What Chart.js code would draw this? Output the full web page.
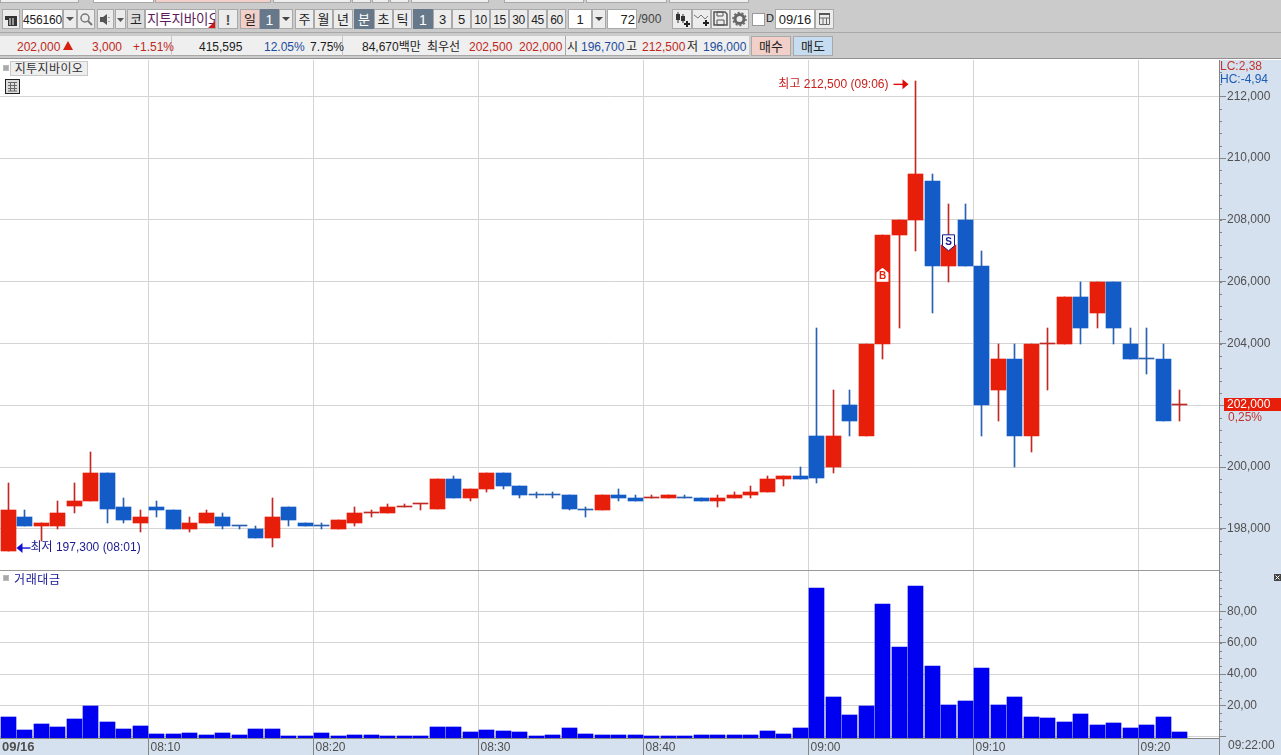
<!DOCTYPE html>
<html lang="ko">
<head>
<meta charset="utf-8">
<title>지투지바이오</title>
<script src="https://cdn.jsdelivr.net/npm/chart.js@4"></script>
<style>
  html, body { margin: 0; padding: 0; background: #cbcbcb; overflow: hidden; }
  body { width: 1281px; height: 755px; position: relative;
         font: 12px "Liberation Sans", "Noto Sans CJK KR", sans-serif; color: #222; }
  canvas { position: absolute; left: 0; display: block; }
  .abs { position: absolute; }
  .tab { position: absolute; top: 0; height: 2px; background: #eeeeee; border: 1px solid #a8a8a8; border-top: 0; box-sizing: content-box; }
  .b { position: absolute; top: 9px; height: 20px; line-height: 20px; box-sizing: border-box; text-align: center;
       background: #ececec; border: 1px solid #a9a9a9; font-size: 13px; white-space: nowrap; overflow: hidden; }
  .in { background: #fff; }
  .on { background: #66788a; color: #fff; border-color: #66788a; }
  .t { position: absolute; top: 37px; line-height: 20px; white-space: nowrap; }
  .r { color: #c0281c; } .u { color: #1d4c9c; } .k { color: #1c1c1c; }
  .ic { position: absolute; top: 0; left: 0; }
</style>
</head>
<body>
<!-- window strip -->
<div class="tab" style="left:0;width:77px"></div><div class="tab" style="left:93px;width:59px;background:#fff"></div>
<div class="tab" style="left:155px;width:114px;background:#f2cfc8"></div><div class="tab" style="left:273px;width:76px"></div>
<div class="tab" style="left:352px;width:17px"></div><div class="tab" style="left:372px;width:15px"></div>
<div class="tab" style="left:390px;width:17px"></div><div class="tab" style="left:411px;width:76px"></div>
<div class="tab" style="left:504px;width:78px"></div><div class="tab" style="left:586px;width:79px"></div>
<div class="tab" style="left:669px;width:78px"></div>

<!-- toolbar -->
<div class="b" style="left:2px;width:18px"><svg class="ic" width="16" height="18"><path d="M2 6h12v10H5v-6H2z" fill="#333"/><path d="M7 8v7M10 8v7" stroke="#fff"/></svg></div>
<div class="b in" style="left:22px;width:41px;font-size:12px;letter-spacing:-.2px">456160</div>
<div class="b" style="left:63px;width:14px"><svg class="ic" width="12" height="18"><path d="M2 7h8l-4 4z" fill="#555"/></svg></div>
<div class="b" style="left:77px;width:18px"><svg class="ic" width="16" height="18"><circle cx="7" cy="8" r="4" fill="none" stroke="#777" stroke-width="1.5"/><path d="M10 11l4 4" stroke="#777" stroke-width="2"/></svg></div>
<div class="b" style="left:97px;width:17px"><svg class="ic" width="15" height="18"><path d="M2 7h3l4-3v11l-4-3H2z" fill="#555"/><path d="M11 7v1M11 11v1" stroke="#555"/></svg></div>
<div class="b" style="left:115px;width:11px"><svg class="ic" width="9" height="18"><path d="M1 8h7l-3.500 4z" fill="#555"/></svg></div>
<div class="b" style="left:127px;width:18px;background:#dcdcdc">코</div>
<div class="b in" style="left:145px;width:71px;color:#5c1a5c;font-size:13.500px;letter-spacing:-.2px;text-align:left;padding-left:1px">지투지바이오<svg class="ic" style="left:62px" width="8" height="18"><path d="M7 11v7H0z" fill="#d01818"/></svg></div>
<div class="b" style="left:218px;width:20px;font-weight:bold;color:#555;font-size:15px">!</div>
<div class="b" style="left:240px;width:20px;background:#f2cfc8">일</div>
<div class="b on" style="left:260px;width:19px;font-size:14px">1</div>
<div class="b" style="left:279px;width:14px"><svg class="ic" width="12" height="18"><path d="M2 7h8l-4 4z" fill="#444"/></svg></div>
<div class="b" style="left:295px;width:19px">주</div><div class="b" style="left:314px;width:19px">월</div><div class="b" style="left:333px;width:20px">년</div>
<div class="b on" style="left:354px;width:20px">분</div><div class="b" style="left:374px;width:19px">초</div><div class="b" style="left:393px;width:19px">틱</div>
<div class="b on" style="left:413px;width:20px;font-size:14px">1</div>
<div class="b" style="left:433px;width:19px">3</div><div class="b" style="left:452px;width:19px">5</div><div class="b" style="left:471px;width:19px;font-size:12px;letter-spacing:-.3px">10</div>
<div class="b" style="left:490px;width:19px;font-size:12px;letter-spacing:-.3px">15</div><div class="b" style="left:509px;width:19px;font-size:12px;letter-spacing:-.3px">30</div><div class="b" style="left:528px;width:19px;font-size:12px;letter-spacing:-.3px">45</div><div class="b" style="left:547px;width:19px;font-size:12px;letter-spacing:-.3px">60</div>
<div class="b in" style="left:568px;width:24px">1</div>
<div class="b" style="left:592px;width:14px"><svg class="ic" width="12" height="18"><path d="M2 7h8l-4 4z" fill="#444"/></svg></div>
<div class="b in" style="left:607px;width:30px;text-align:right;padding-right:1px;font-size:13px">72</div>
<div class="abs" style="left:638px;top:9px;line-height:20px;color:#444">/900</div>
<div class="b" style="left:672px;width:20px"><svg class="ic" width="18" height="18"><path d="M5 2v11M10 4v9" stroke="#333"/><path d="M3 4h4v6H3zM8 6h4v5H8z" fill="#333"/><path d="M11 14h6M14 11v6" stroke="#222" stroke-width="2"/></svg></div>
<div class="b" style="left:692px;width:19px"><svg class="ic" width="17" height="18"><path d="M1 5l4 3 3-3 4 4 3-3" fill="none" stroke="#777"/><path d="M10 13h6M13 10v6" stroke="#222" stroke-width="2"/></svg></div>
<div class="b" style="left:711px;width:19px"><svg class="ic" width="17" height="18"><path d="M2 2h11l2 2v11H2z" fill="none" stroke="#555" stroke-width="1.500"/><path d="M5 2h6v4H5zM5 10h7v5H5z" fill="none" stroke="#555"/></svg></div>
<div class="b" style="left:730px;width:19px"><svg class="ic" width="17" height="18"><circle cx="8.500" cy="9" r="4.500" fill="none" stroke="#666" stroke-width="3"/><circle cx="8.500" cy="9" r="6.500" fill="none" stroke="#666" stroke-width="1.500" stroke-dasharray="2 2"/></svg></div>
<div class="abs" style="left:752px;top:13px;width:13px;height:13px;background:#fff;border:1px solid #999;box-sizing:border-box"></div>
<div class="abs" style="left:766px;top:8px;line-height:20px;font-size:11px">D</div>
<div class="b in" style="left:775px;width:40px;font-size:13px">09/16</div>
<div class="b" style="left:815px;width:19px"><svg class="ic" width="17" height="18"><path d="M3.500 4.500h10v10h-10zM3.500 8h10M7 8v6M10.500 8v6" fill="none" stroke="#666"/><path d="M3 3h11v2H3z" fill="#555"/></svg></div>
<div class="abs" style="left:0;top:32px;width:1281px;height:1px;background:#a8a8a8"></div>

<!-- quote row -->
<div class="abs" style="left:0;top:36px;width:749px;height:20px;background:#efefef;border-bottom:1px solid #a8a8a8;box-sizing:border-box"></div>
<div class="abs" style="left:171px;top:36px;width:1px;height:20px;background:#c4c4c4"></div>
<div class="abs" style="left:342px;top:36px;width:1px;height:20px;background:#c4c4c4"></div>
<div class="abs" style="left:565px;top:36px;width:1px;height:20px;background:#a8a8a8"></div>
<div class="t r" style="left:17px">202,000</div>
<svg class="abs" style="left:63px;top:41px" width="10" height="10"><path d="M5 0l5 9H0z" fill="#d8200e"/></svg>
<div class="t r" style="left:92px">3,000</div><div class="t r" style="left:133px">+1.51%</div>
<div class="t k" style="left:199px">415,595</div><div class="t u" style="left:264px">12.05%</div><div class="t k" style="left:310px">7.75%</div>
<div class="t k" style="left:362px">84,670백만</div><div class="t k" style="left:427px">최우선</div>
<div class="t r" style="left:469px">202,500</div><div class="t r" style="left:519px">202,000</div>
<div class="t k" style="left:567px">시</div><div class="t u" style="left:581px">196,700</div>
<div class="t k" style="left:626px">고</div><div class="t r" style="left:642px">212,500</div>
<div class="t k" style="left:687px">저</div><div class="t u" style="left:703px">196,000</div>
<div class="abs" style="left:751px;top:36px;width:40px;height:20px;line-height:20px;text-align:center;background:#f2cfc8;border:1px solid #a9a9a9;box-sizing:border-box;font-size:13px">매수</div>
<div class="abs" style="left:793px;top:36px;width:40px;height:20px;line-height:20px;text-align:center;background:#c6dcf1;border:1px solid #a9a9a9;box-sizing:border-box;font-size:13px">매도</div>
<div class="abs" style="left:0;top:58px;width:1281px;height:1px;background:#909090"></div>
<div class="abs" style="left:0;top:59px;width:1281px;height:1px;background:#fff"></div>

<canvas id="priceChart" width="1281" height="510" style="top:60px"></canvas>
<canvas id="valueChart" width="1281" height="185" style="top:570px"></canvas>

<!-- pane furniture -->
<div class="abs" style="left:0;top:570px;width:1219px;height:1px;background:#9a9a9a"></div>
<div class="abs" style="left:3px;top:65px;width:6px;height:6px;background:#a8a8a8;border:1px solid #bbb;box-sizing:border-box"></div>
<div class="abs" style="left:10px;top:61px;width:78px;height:15px;line-height:14px;text-align:center;background:#eeeeee;border:1px solid #c8c8c8;box-sizing:border-box;color:#333;letter-spacing:.4px">지투지바이오</div>
<svg class="abs" style="left:5px;top:79px" width="15" height="15"><rect x=".5" y=".5" width="14" height="14" fill="#ddd" stroke="#222"/><path d="M3 3.500h9M3 6.500h9M3 9.500h9M3 12h9M5.500 3v9M9.500 3v9" stroke="#666"/></svg>
<div class="abs" style="left:3px;top:575px;width:6px;height:6px;background:#a8a8a8;border:1px solid #bbb;box-sizing:border-box"></div>
<div class="abs" style="left:14px;top:573px;line-height:15px;color:#141496;letter-spacing:.6px">거래대금</div>
<svg class="abs" style="left:1274px;top:574px" width="7" height="7"><rect width="7" height="7" fill="#444"/><path d="M1.500 1.500l4 4M5.500 1.500l-4 4" stroke="#fff"/></svg>

<script>
// Minute candles, one entry per trading minute shown on the chart.
const times = [
  '08:01','08:02','08:03','08:04','08:05','08:06','08:07','08:08','08:09','08:10',
  '08:11','08:12','08:13','08:14','08:15','08:16','08:17','08:18','08:19','08:20',
  '08:21','08:22','08:23','08:24','08:25','08:26','08:27','08:28','08:29','08:30',
  '08:31','08:32','08:33','08:34','08:35','08:36','08:37','08:38','08:39','08:40',
  '08:41','08:42','08:43','08:44','08:45','08:46','08:47','08:48','08:49','09:00',
  '09:01','09:02','09:03','09:04','09:05','09:06','09:07','09:08','09:09','09:10',
  '09:11','09:12','09:13','09:14','09:15','09:16','09:17','09:18','09:19','09:20',
  '09:21','09:22'];
const opens = [
  197300,198400,198100,198100,198750,198900,199800,198700,198200,198700,
  198600,198000,198200,198400,198100,198000,197700,198700,198200,198100,
  198000,198200,198500,198500,198700,198800,198650,199600,199000,199300,
  199800,199400,199100,199100,199100,198600,198600,199100,199000,199000,
  199000,199000,199000,198900,199000,199100,199200,199600,199700,201000,
  200000,202000,201000,204000,207500,208000,209250,206500,208000,206500,
  202500,203500,201000,204000,204000,205500,205000,206000,204000,203500,
  203500,202000];
const highs = [
  199500,198600,198200,198900,199500,200500,199800,199000,198600,198900,
  198600,198400,198600,198500,198100,198100,199000,198700,198200,198200,
  198300,198700,198600,198800,198800,198800,199600,199700,199300,199800,
  199800,199400,199200,199200,199100,198700,199100,199300,199100,199100,
  199100,199100,199000,199100,199200,199400,199700,199700,200000,204500,
  202500,202500,204000,207500,208000,212500,209500,208500,208500,207000,
  204000,204000,204000,204500,205500,206000,206000,206000,204500,204500,
  204000,202500];
const lows = [
  197300,198100,197600,198000,198500,198900,198200,198200,197900,198400,
  198000,197900,198200,198000,198000,197700,197400,198100,198100,198000,
  198000,198100,198400,198500,198700,198600,198650,199000,198900,199200,
  199300,199000,199000,199000,198600,198400,198600,198900,198900,199000,
  199000,199000,198900,198700,199000,199000,199200,199400,199600,199500,
  199800,201000,201000,203500,204500,207000,205000,206000,206500,201000,
  201500,200000,200500,202500,204000,204000,204500,204000,203500,203000,
  201500,201500];
const closes = [
  198600,198100,198200,198500,198900,199800,198650,198300,198400,198600,
  198000,198200,198500,198100,198100,197700,198400,198300,198100,198100,
  198300,198500,198500,198700,198700,198800,199600,199000,199300,199800,
  199400,199100,199100,199100,198650,198600,199100,199000,198900,199000,
  199100,199000,198900,199000,199100,199200,199600,199700,199600,199650,
  201000,201500,204000,207500,208000,209500,206500,207200,206500,202000,
  203500,201000,204000,204000,205500,204500,206000,204500,203500,203500,
  201500,202000];
// Unchanged candles that close on a downtick are coloured blue.
const downtickDoji = [14,19,32,33,35,41,69];
const tradeValues = [
  12.6,4.3,8.1,6.2,11.3,19.6,9.4,4.9,6.8,1.7,
  1.7,2.3,1.1,2.3,1.1,4.9,4.9,0.4,0.4,2.3,
  0.4,1.1,1.1,0.4,0.4,0.4,6.2,6.2,3.0,4.3,
  3.6,3.0,0.4,1.1,5.5,1.7,1.1,1.1,1.1,0.4,
  0.4,0.4,1.1,1.1,1.1,1.1,3.6,1.7,5.5,94.9,
  25.3,13.8,19.6,84.7,57.2,96.2,45.1,20.2,22.8,43.8,
  20.2,25.3,12.6,11.9,9.4,14.5,7.4,8.7,5.5,7.4,
  12.6,3.0];
const priceTicks = [198000,200000,202000,204000,206000,208000,210000,212000];
const priceMinorStep = 400;
const valueTicks = [0,20,40,60,80];
const valueMinorStep = 5;
const timeTickIndexes = [0,9,19,29,39,49,59,69];
const dateLabel = '09/16';
const axisEndLabel = '09:22:00';
const lastPrice = 202000;
const lastChange = '0,25%';
const highIndex = 55, lowIndex = 0, buyIndex = 53, sellIndex = 57;

const RED = '#e61e0a', BLUE = '#135cc8', RED_WICK = '#c02a22', BLUE_WICK = '#2a60b0';
const GRID = '#d4d4d4', AXIS = '#858585', BAND = '#d6e1ef', LABEL = '#505050';
const FONT = '"Liberation Sans", "Noto Sans CJK KR", sans-serif';
const AXIS_WIDTH = 62;
const xMin = -0.5, xMax = 73.38;
const isUp = i => closes[i] >= opens[i] && !downtickDoji.includes(i);
const isDoji = i => closes[i] === opens[i];

Chart.defaults.font.family = FONT;
Chart.defaults.font.size = 12;
Chart.defaults.animation = false;

// Keeps candle edges on whole device pixels so the thin wicks stay crisp.
const snapBars = {
  id: 'snapBars',
  afterDatasetsUpdate(chart) {
    chart.data.datasets.forEach((ds, d) => {
      chart.getDatasetMeta(d).data.forEach(el => {
        el.x = Math.floor(el.x) + 0.5;
        const top = Math.round(Math.min(el.y, el.base));
        let bottom = Math.round(Math.max(el.y, el.base));
        if (bottom <= top) bottom = top + 1;
        el.y = top; el.base = bottom;
      });
    });
  }
};

// Paints the pane and axis column, and puts the short minor ticks along the axis.
const axisBand = {
  id: 'axisBand',
  beforeDraw(chart, args, opts) {
    const { ctx, chartArea: a, width, height } = chart;
    ctx.save();
    ctx.fillStyle = '#ffffff';
    ctx.fillRect(0, 0, a.right, a.bottom);
    ctx.fillStyle = BAND;
    ctx.fillRect(a.right, 0, width - a.right, height);
    if (opts.bottomBand) ctx.fillRect(0, a.bottom, width, height - a.bottom);
    ctx.restore();
  },
  afterDraw(chart, args, opts) {
    const { ctx, chartArea: a, scales: { y } } = chart;
    ctx.save();
    ctx.strokeStyle = AXIS;
    ctx.lineWidth = 1;
    for (let v = opts.minorFrom; v <= y.max; v += opts.minorStep) {
      const p = Math.round(y.getPixelForValue(v)) + 0.5;
      if (p < a.top + 2) continue;
      ctx.beginPath(); ctx.moveTo(a.right, p); ctx.lineTo(a.right + 3, p); ctx.stroke();
    }
    ctx.restore();
  }
};

function fixAxisWidth(scale) {
  scale.width = AXIS_WIDTH;
  scale.paddingTop = 0; scale.paddingBottom = 0;
}
function sharedX(tickIdx) {
  return {
    type: 'linear', min: xMin, max: xMax, offset: false,
    afterBuildTicks(s) { s.ticks = tickIdx.map(i => ({ value: i - 0.5 })); }
  };
}

// Extreme-price callouts, buy/sell flags and the last-price tag.
const priceMarks = {
  id: 'priceMarks',
  afterDraw(chart) {
    const { ctx, scales: { x, y } } = chart;
    const cx = i => Math.floor(x.getPixelForValue(i)) + 0.5;
    ctx.save();
    ctx.font = '12px ' + FONT;
    ctx.textBaseline = 'middle';

    const hy = y.getPixelForValue(highs[highIndex]) + 3.5;
    ctx.fillStyle = '#c8201c';
    ctx.textAlign = 'right';
    ctx.fillText('최고 212,500 (09:06)', cx(highIndex) - 27, hy);
    ctx.strokeStyle = ctx.fillStyle = '#e00d0d';
    ctx.lineWidth = 1.4;
    ctx.beginPath(); ctx.moveTo(cx(highIndex) - 22, hy); ctx.lineTo(cx(highIndex) - 10, hy); ctx.stroke();
    ctx.beginPath(); ctx.moveTo(cx(highIndex) - 7, hy); ctx.lineTo(cx(highIndex) - 13, hy - 5); ctx.lineTo(cx(highIndex) - 13, hy + 5); ctx.fill();

    const ly = y.getPixelForValue(lows[lowIndex]) - 2.5;
    ctx.strokeStyle = ctx.fillStyle = '#1010d0';
    ctx.beginPath(); ctx.moveTo(cx(lowIndex) + 12, ly); ctx.lineTo(cx(lowIndex) + 22, ly); ctx.stroke();
    ctx.beginPath(); ctx.moveTo(cx(lowIndex) + 8, ly); ctx.lineTo(cx(lowIndex) + 14, ly - 5); ctx.lineTo(cx(lowIndex) + 14, ly + 5); ctx.fill();
    ctx.fillStyle = '#1a1a90';
    ctx.textAlign = 'left';
    ctx.fillText('최저 197,300 (08:01)', cx(lowIndex) + 22, ly);

    // buy flag sits inside the candle body
    const bx = cx(buyIndex), by = y.getPixelForValue(206000) - 7;
    ctx.fillStyle = '#fff';
    ctx.beginPath();
    ctx.moveTo(bx, by - 7); ctx.lineTo(bx + 6, by - 2); ctx.lineTo(bx + 6, by + 7);
    ctx.lineTo(bx - 6, by + 7); ctx.lineTo(bx - 6, by - 2); ctx.closePath(); ctx.fill();
    ctx.fillStyle = RED;
    ctx.font = 'bold 10px ' + FONT;
    ctx.textAlign = 'center';
    ctx.fillText('B', bx, by + 2);

    // sell flag points down at the candle
    const sx = cx(sellIndex), sy = y.getPixelForValue(207000);
    ctx.fillStyle = '#fff';
    ctx.strokeStyle = '#1a1a8c';
    ctx.lineWidth = 1;
    ctx.beginPath();
    ctx.moveTo(sx - 6, sy - 16); ctx.lineTo(sx + 6, sy - 16); ctx.lineTo(sx + 6, sy - 5);
    ctx.lineTo(sx, sy); ctx.lineTo(sx - 6, sy - 5); ctx.closePath(); ctx.fill(); ctx.stroke();
    ctx.fillStyle = '#1a1a8c';
    ctx.fillText('S', sx, sy - 9);

    // last-price tag in the axis column
    const ty = Math.round(y.getPixelForValue(lastPrice));
    ctx.fillStyle = RED;
    ctx.fillRect(1224, ty - 7, 57, 13);
    ctx.fillStyle = '#fff';
    ctx.font = '12px ' + FONT;
    ctx.textAlign = 'left';
    ctx.fillText('202,000', 1227, ty);
    ctx.fillStyle = '#c0352c';
    ctx.fillText(lastChange, 1228, ty + 13);

    // chart-wide low/high change readouts
    ctx.fillStyle = '#c0352c';
    ctx.fillText('LC:2,38', 1220, 7);
    ctx.fillStyle = '#1d5cb4';
    ctx.fillText('HC:-4,94', 1220, 20);
    ctx.restore();
  }
};

new Chart(document.getElementById('priceChart'), {
  type: 'bar',
  data: {
    datasets: [
      {
        data: times.map((t, i) => ({ x: i, y: [opens[i], closes[i]] })),
        barThickness: 15, minBarLength: 1, grouped: false, borderWidth: 0,
        backgroundColor: times.map((t, i) =>
          isDoji(i) ? (isUp(i) ? RED_WICK : BLUE_WICK) : (isUp(i) ? RED : BLUE))
      },
      {
        data: times.map((t, i) => ({ x: i, y: [lows[i], highs[i]] })),
        barThickness: 1, grouped: false, borderWidth: 0,
        backgroundColor: times.map((t, i) => isUp(i) ? RED_WICK : BLUE_WICK)
      }
    ]
  },
  options: {
    responsive: false,
    layout: { padding: 0 },
    plugins: { legend: { display: false }, tooltip: { enabled: false },
               axisBand: { minorFrom: 197200, minorStep: priceMinorStep } },
    scales: {
      x: { ...sharedX(timeTickIndexes.slice(1)),
           grid: { color: GRID, offset: false, drawTicks: false }, border: { display: false },
           ticks: { display: false },
           afterFit(s) { s.height = 0; s.paddingLeft = 0; s.paddingRight = 0; } },
      y: { position: 'right', min: 196670, max: 213175,
           afterBuildTicks(s) { s.ticks = priceTicks.map(value => ({ value })); },
           afterFit: fixAxisWidth,
           grid: { color: GRID, tickColor: AXIS, tickLength: 7 },
           border: { color: AXIS, width: 1 },
           ticks: { color: LABEL, padding: 1, callback: v => v.toLocaleString('en-US') } }
    }
  },
  plugins: [snapBars, axisBand, priceMarks]
});

new Chart(document.getElementById('valueChart'), {
  type: 'bar',
  data: {
    datasets: [{
      data: times.map((t, i) => ({ x: i, y: tradeValues[i] })),
      barThickness: 15, grouped: false, borderWidth: 0, base: -0.77,
      backgroundColor: '#0000f0'
    }]
  },
  options: {
    responsive: false,
    layout: { padding: 0 },
    plugins: { legend: { display: false }, tooltip: { enabled: false },
               axisBand: { minorFrom: 5, minorStep: valueMinorStep, bottomBand: true } },
    scales: {
      x: { ...sharedX(timeTickIndexes),
           grid: { offset: false, tickLength: 17,
                   color: c => c.index === 0 ? 'rgba(0,0,0,0)' : GRID,
                   tickColor: c => c.index === 0 ? 'rgba(0,0,0,0)' : AXIS },
           border: { color: AXIS, width: 1 },
           ticks: { color: LABEL, padding: -15, align: 'start', labelOffset: 2, maxRotation: 0, autoSkip: false,
                    font: c => c.index === 0 ? { weight: 'bold', size: 13 } : { size: 12 },
                    callback: (v, i) => i === 0 ? dateLabel : times[timeTickIndexes[i]] },
           afterFit(s) { s.height = 17; s.paddingLeft = 0; s.paddingRight = 0; } },
      y: { position: 'right', min: -0.77, max: 106.4,
           afterBuildTicks(s) { s.ticks = valueTicks.map(value => ({ value })); },
           afterFit: fixAxisWidth,
           grid: { color: GRID, tickColor: AXIS, tickLength: 7 },
           border: { color: AXIS, width: 1 },
           ticks: { color: LABEL, padding: 1, callback: v => v === 0 ? '' : v.toFixed(2).replace('.', ',') } }
    }
  },
  plugins: [snapBars, axisBand, {
    id: 'axisEnd',
    afterDraw(chart) {
      const { ctx, chartArea: a } = chart;
      ctx.save();
      ctx.strokeStyle = AXIS;
      ctx.beginPath(); ctx.moveTo(a.right + 0.5, a.bottom); ctx.lineTo(a.right + 0.5, chart.height); ctx.stroke();
      ctx.fillStyle = LABEL;
      ctx.font = '12px ' + FONT;
      ctx.textBaseline = 'top';
      ctx.fillText(axisEndLabel, a.right + 9, a.bottom + 2);
      ctx.restore();
    }
  }]
});
</script>
</body>
</html>
